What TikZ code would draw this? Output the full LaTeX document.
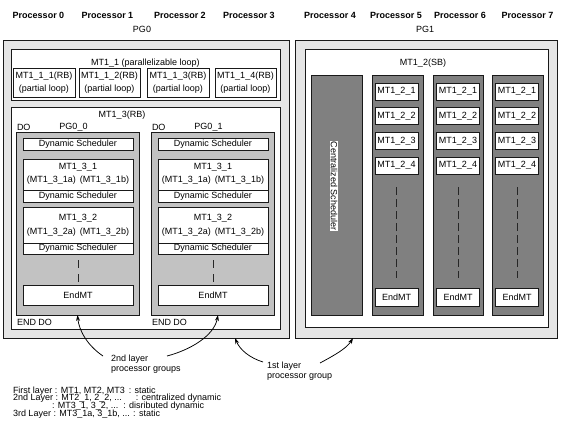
\documentclass[tikz,border=0pt]{standalone}
\usepackage{fontspec}
\setmainfont{Liberation Sans}
\usetikzlibrary{arrows.meta}
% box by its corners: style, name, x1, y1, x2, y2, text
\newcommand\placebox[7]{%
  \pgfmathsetmacro\boxw{(#5)-(#3)}%
  \pgfmathsetmacro\boxh{(#6)-(#4)}%
  \node[#1, anchor=north west, minimum width=\boxw pt, minimum height=\boxh pt] (#2) at (#3,#4) {#7};}
\begin{document}
\begin{tikzpicture}[x=1pt,y=-1pt,
  every node/.style={font=\fontsize{9}{10}\selectfont, inner sep=0pt, outer sep=0pt},
  edge/.style={draw=black!90, line width=0.95pt},
  outerbox/.style={edge, fill=black!10},
  whitebox/.style={edge, fill=white},
  groupbox/.style={edge, fill=black!24},
  columnbox/.style={edge, fill=black!50},
  head/.style={font=\bfseries\fontsize{9}{10}\selectfont},
  continuedshort/.style={draw=black!85, line width=1pt, dash pattern=on 8pt off 6pt},
  continuedlong/.style={draw=black!85, line width=1pt, dash pattern=on 8pt off 4pt},
  pointer/.style={draw=black, line width=0.75pt, -{Stealth[length=6pt,width=4pt]}},
]
\useasboundingbox (0,0) rectangle (565,423);

% processor headings and group names
\foreach \n/\x in {0/38.5,1/107.5,2/180,3/249,4/330,5/396,6/460,7/527.5}
  {\node[head] (proc\n) at (\x,15) {Processor \n};}
\node (pg0lbl) at (142,29) {PG0};
\node (pg1lbl) at (425,29) {PG1};

% ---- processor group PG0 ----
\placebox{outerbox}{pg0}{3}{40}{289}{338}{}
\placebox{whitebox}{mt11}{11}{49}{280}{100}{}
\node (mt11t) at (145.5,63) {MT1\_1 (parallelizable loop)};
\foreach \k/\xa/\xb in {1/13/75,2/79/140,3/147/209,4/215/276} {
  \placebox{whitebox,align=center,font=\fontsize{9}{13.5}\selectfont}{mt11\k}{\xa}{68}{\xb}{97}{MT1\_1\_\k(RB)\\(partial loop)}
}

\placebox{whitebox}{mt13}{11}{107}{280}{329}{}
\node (mt13t) at (122,115) {MT1\_3(RB)};

\foreach \i/\dx in {0/0,1/135} {
  \node[anchor=west] (do\i) at (17+\dx,127) {DO};
  \node (pgt\i) at (73.5+\dx,127) {PG0\_\i};
  \placebox{groupbox}{pg0\i}{16+\dx}{132}{139+\dx}{315}{}
  \placebox{whitebox}{dsa\i}{23+\dx}{138}{133+\dx}{150}{Dynamic Scheduler}
  % first inner task with its scheduler
  \placebox{whitebox}{mtA\i}{23+\dx}{159}{133+\dx}{202}{}
  \node (mtAt\i) at (78+\dx,167) {MT1\_3\_1};
  \node (mtAs\i) at (78+\dx,180) {(MT1\_3\_1a)\, (MT1\_3\_1b)};
  \placebox{whitebox}{dsb\i}{23+\dx}{190}{133+\dx}{202}{Dynamic Scheduler}
  % second inner task with its scheduler
  \placebox{whitebox}{mtB\i}{23+\dx}{207}{133+\dx}{254}{}
  \node (mtBt\i) at (78+\dx,218) {MT1\_3\_2};
  \node (mtBs\i) at (78+\dx,232) {(MT1\_3\_2a)\, (MT1\_3\_2b)};
  \placebox{whitebox}{dsc\i}{23+\dx}{243}{133+\dx}{254}{Dynamic Scheduler}
  \placebox{whitebox}{end\i}{23+\dx}{285}{133+\dx}{305}{EndMT}
  \draw[continuedshort] ([yshift=-6pt]mtB\i.south) -- ([yshift=3pt]end\i.north);
  \node[anchor=west] (enddo\i) at (17+\dx,322) {END DO};
}

% ---- processor group PG1 ----
\placebox{outerbox}{pg1}{295}{40}{557}{338}{}
\placebox{whitebox}{mt12}{305}{49}{548}{327}{}
\node (mt12t) at (423,63) {MT1\_2(SB)};
\placebox{columnbox}{csched}{311}{75}{362}{315}{}
\node[fill=white, rotate=-90, inner sep=0.6pt] (cschedt) at (334,186) {Centralized Scheduler};
\foreach \c/\xa/\xb/\xx in {1/372/423/375, 2/433/483/436.5, 3/492/543/495.5} {
  \placebox{columnbox}{col\c}{\xa}{75}{\xb}{315}{}
  \foreach \r/\yy in {1/83, 2/107.7, 3/132.4, 4/157.1} {
    \placebox{whitebox}{mt12\c\r}{\xx}{\yy}{\xx+43}{\yy+17}{MT1\_2\_\r}
  }
  \placebox{whitebox}{endc\c}{\xx}{288}{\xx+43}{306}{EndMT}
  \draw[continuedlong] ([yshift=-13pt]mt12\c4.south) -- ([yshift=10pt]endc\c.north);
}

% ---- layer annotations ----
\node[anchor=base west] (lay2a) at (111,361) {2nd layer};
\node[anchor=base west] (lay2b) at (111,371) {processor groups};
\node[anchor=base west] (lay1a) at (267,368) {1st layer};
\node[anchor=base west] (lay1b) at (267,378) {processor group};
\coordinate (s1) at (103,356);
\coordinate (s2) at (167,356);
\coordinate (s3) at (263,362);
\coordinate (s4) at (320,363);
\draw[pointer] (s1) .. controls (88,346) and (79,331) .. (pg00.south);
\draw[pointer] (s2) .. controls (190,350) and (214,336) .. ([xshift=5.5pt]pg01.south);
\draw[pointer] (s3) .. controls (250,358) and (240,350) .. ([xshift=89pt]pg0.south);
\draw[pointer] (s4) .. controls (335,355) and (347,348) .. ([xshift=-73pt]pg1.south);

% ---- legend ----
\node[anchor=base west] (leg1) at (13,393) {First layer : MT1, MT2, MT3\hspace{4pt}: static};
\node[anchor=base west] (leg2) at (13,400.7) {2nd Layer : MT2\_1, 2\_2, ...\hspace{14pt}: centralized dynamic};
\node[anchor=base west] (leg3) at (52,408.4) {: MT3\_1, 3\_2, ...\hspace{5pt}: disributed dynamic};
\node[anchor=base west] (leg4) at (13,416) {3rd Layer : MT3\_1a, 3\_1b, ... : static};
\end{tikzpicture}
\end{document}
